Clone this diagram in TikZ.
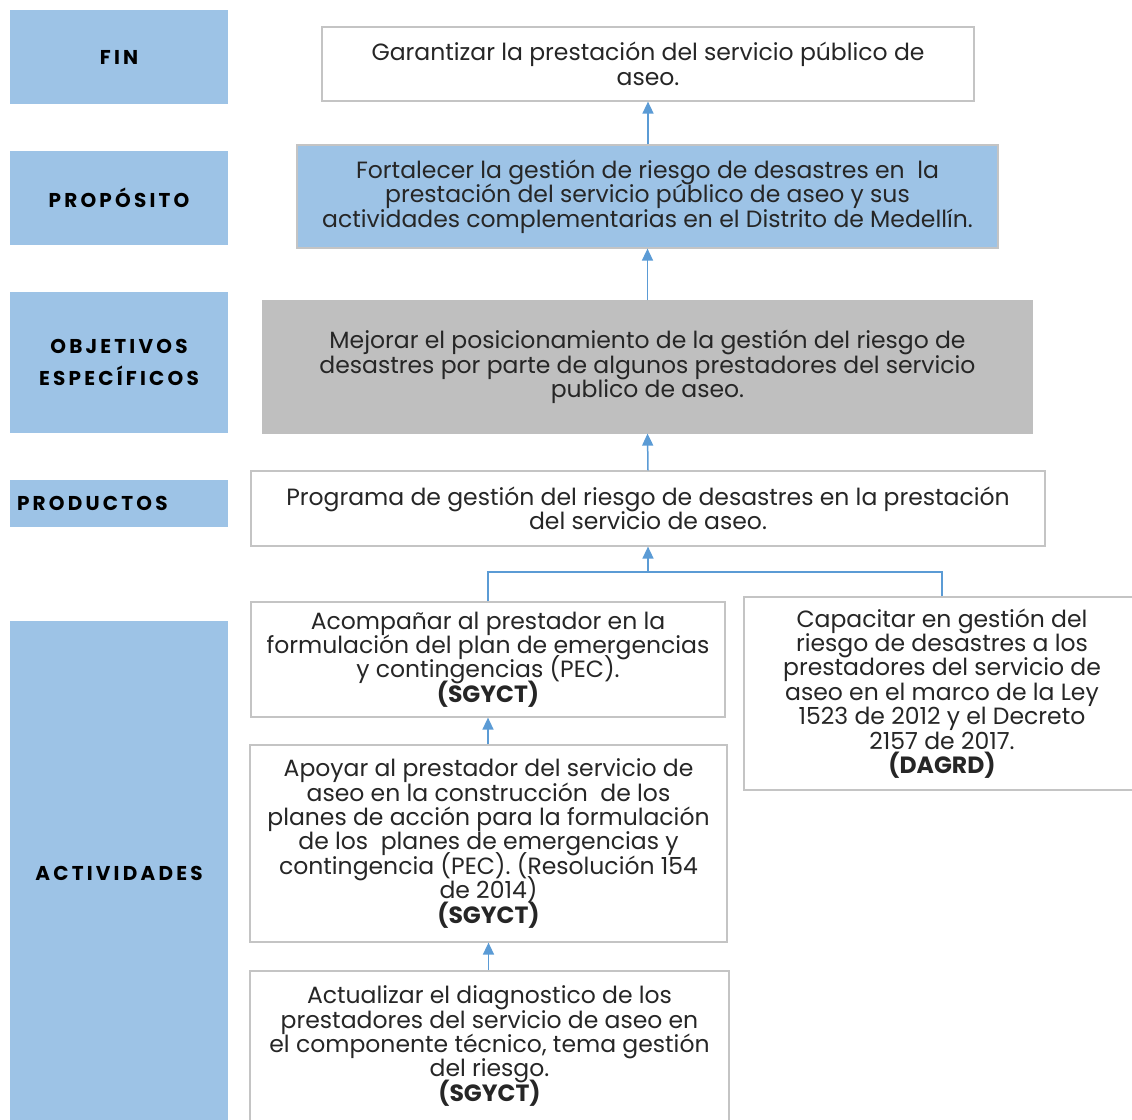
\documentclass[tikz,border=0pt]{standalone}
\usepackage{fontspec}
\setmainfont{Poppins}
\newfontfamily\labelfont[LetterSpace=16]{Poppins}
\usetikzlibrary{arrows.meta}
\definecolor{lblue}{HTML}{9DC3E6}
\definecolor{bgray}{HTML}{BFBFBF}
\definecolor{edgegray}{HTML}{C4C4C4}
\definecolor{arrblue}{HTML}{5B9BD5}
\definecolor{txt}{HTML}{262626}
\newcommand{\myboxfont}{\fontsize{23.5}{24.4}\selectfont\lineskiplimit=-100pt\relax\lineskip=0pt\relax}
\tikzset{
  lbl/.style={fill=lblue, draw=none, inner sep=0pt, minimum width=218pt, align=center,
    font=\labelfont\bfseries\fontsize{20}{32}\selectfont, text=black},
  box/.style={draw=edgegray, line width=1.2pt, fill=white, inner sep=0pt, align=center,
    font=\myboxfont, text=txt},
  conn/.style={draw=arrblue, line width=1.5pt},
  arr/.style={conn, -{Triangle[width=11pt,length=12pt]}}
}
\begin{document}
\begin{tikzpicture}[x=1pt,y=-1pt]
\useasboundingbox (0,0) rectangle (1132,1119);
% left labels
\node[lbl, minimum height=94pt] (lfin) at (119,57) {FIN};
\node[lbl, minimum height=94pt] (lprop) at (119,198) {PROPÓSITO};
\node[lbl, minimum height=141pt] (lobj) at (119,362.5) {OBJETIVOS\\ESPECÍFICOS};
\node[lbl, minimum height=47pt, text width=204pt, inner xsep=7pt, align=left] (lprod) at (119,503.5) {PRODUCTOS};
\node[lbl, minimum height=504pt] (lact) at (119,873) {ACTIVIDADES};
% right boxes
\node[box, minimum width=652pt, minimum height=74pt] (fin) at (648,64)
  {Garantizar la prestación del servicio público de\\aseo.};
\node[box, fill=lblue, minimum width=701pt, minimum height=103pt] (prop) at (647.5,196.5)
  {Fortalecer la gestión de riesgo de desastres en\ \ la\\prestación del servicio público de aseo y sus\\actividades complementarias en el Distrito de Medellín.};
\node[box, fill=bgray, draw=bgray, minimum width=769pt, minimum height=132pt] (obj) at (647.5,367)
  {Mejorar el posicionamiento de la gestión del riesgo de\\desastres por parte de algunos prestadores del servicio\\publico de aseo.};
\node[box, minimum width=794pt, minimum height=75pt] (prod) at (648,508.5)
  {Programa de gestión del riesgo de desastres en la prestación\\del servicio de aseo.};
\node[box, minimum width=474pt, minimum height=115pt] (act1) at (488,659.5)
  {Acompañar al prestador en la\\formulación del plan de emergencias\\y contingencias (PEC).\\\textbf{(SGYCT)}};
\node[box, minimum width=477pt, minimum height=197pt] (act2) at (488.5,843.5)
  {Apoyar al prestador del servicio de\\aseo en la construcción\ \ de los\\planes de acción para la formulación\\de los\ \ planes de emergencias y\\contingencia (PEC). (Resolución 154\\de 2014)\\\textbf{(SGYCT)}};
\node[box, minimum width=479pt, minimum height=150pt] (act3) at (489.5,1046)
  {Actualizar el diagnostico de los\\prestadores del servicio de aseo en\\el componente técnico, tema gestión\\del riesgo.\\\textbf{(SGYCT)}};
\node[box, minimum width=396pt, minimum height=193pt] (act4) at (942,693.5)
  {Capacitar en gestión del\\riesgo de desastres a los\\prestadores del servicio de\\aseo en el marco de la Ley\\1523 de 2012 y el Decreto\\2157 de 2017.\\\textbf{(DAGRD)}};
% connectors
\coordinate (j) at (648,572);
\draw[arr] (prop.north -| fin.south) -- (fin.south);
\draw[arr] (obj.north) -- (prop.south);
\draw[arr] (prod.north) -- (obj.south);
\draw[conn] (act1.north) |- (j);
\draw[conn] (act4.north) |- (j);
\draw[arr] (j) -- (prod.south -| j);
\draw[arr] (act2.north -| act1.south) -- (act1.south);
\draw[arr] (act3.north -| act2.south) -- (act2.south);
\end{tikzpicture}
\end{document}
